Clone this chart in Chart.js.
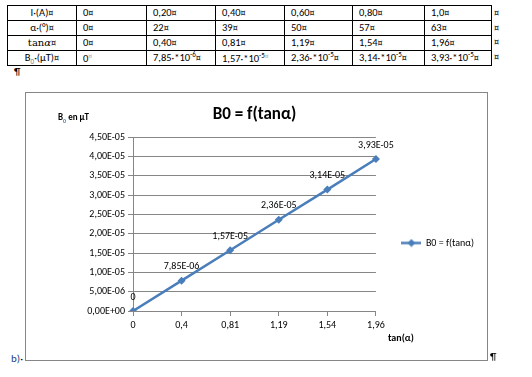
<!DOCTYPE html>
<html>
<head>
<meta charset="utf-8">
<script src="https://cdn.jsdelivr.net/npm/chart.js@4.4.0/dist/chart.umd.min.js"></script>
<style>
  body { margin: 0; background: #fff; font-family: Carlito, Calibri, Lato, sans-serif; color: #000; }
  .abs { position: absolute; white-space: nowrap; }
  table.val { position: absolute; left: 7px; top: 5px; border-collapse: collapse; font-size: 10.5px; }
  table.val td { border: 1px solid #000; height: 13px; padding: 0; text-indent: 6px; line-height: 13px; white-space: nowrap; }
  table.val td:first-child { text-align: center; text-indent: 0; }
  table.val sup { font-size: 7px; line-height: 0; }
  .m { font-family: 'DejaVu Sans', sans-serif; font-size: 8px; }
  .mg { font-family: 'DejaVu Sans', sans-serif; font-size: 6px; color: #999; vertical-align: super; line-height: 0; }
  #frame { position: absolute; left: 25px; top: 92px; width: 463px; height: 269px; border: 1px solid #868686; box-sizing: border-box; }
  #chart { position: absolute; left: 25px; top: 92px; }
</style>
</head>
<body>
<table class="val">
  <tr><td style="width:68px">I·(A)<span class="m">¤</span></td><td style="width:69px">0<span class="m">¤</span></td><td style="width:68px">0,20<span class="m">¤</span></td><td style="width:68px">0,40<span class="m">¤</span></td><td style="width:67px">0,60<span class="m">¤</span></td><td style="width:71px">0,80<span class="m">¤</span></td><td style="width:66px">1,0<span class="m">¤</span></td></tr>
  <tr><td>α·(°)<span class="m">¤</span></td><td>0<span class="m">¤</span></td><td>22<span class="m">¤</span></td><td>39<span class="m">¤</span></td><td>50<span class="m">¤</span></td><td>57<span class="m">¤</span></td><td>63<span class="m">¤</span></td></tr>
  <tr><td><span style="font-family:'DejaVu Serif',serif;font-size:10px">tan<i>α</i></span><span class="m">¤</span></td><td>0<span class="m">¤</span></td><td>0,40<span class="m">¤</span></td><td>0,81<span class="m">¤</span></td><td>1,19<span class="m">¤</span></td><td>1,54<span class="m">¤</span></td><td>1,96<span class="m">¤</span></td></tr>
  <tr><td>B<sub style="font-size:7px;line-height:0;color:#777">0</sub>·(µT)<span class="m">¤</span></td><td>0<span class="mg">¤</span></td><td>7,85·*10<sup>-6</sup><span class="m">¤</span></td><td>1,57·*10<sup>-5</sup><span class="mg">¤</span></td><td>2,36·*10<sup>-5</sup><span class="m">¤</span></td><td>3,14·*10<sup>-5</sup><span class="m">¤</span></td><td>3,93·*10<sup>-5</sup><span class="m">¤</span></td></tr>
</table>
<div class="abs m" style="left:494px;top:7px;line-height:14.5px;">¤<br>¤<br>¤<br>¤</div>
<div class="abs" style="left:14px;top:65px;font-size:11px;">¶</div>

<div id="frame"></div>
<canvas id="chart" width="464" height="270"></canvas>
<div class="abs" style="left:58px;top:111px;font-size:9px;font-weight:bold;">B<sub style="font-size:6px;color:#4a7ebb">0</sub> en µT</div>
<div class="abs" style="left:388px;top:331px;font-size:10px;font-weight:bold;">tan(α)</div>
<div class="abs" style="left:11px;top:352px;font-size:11px;color:#1f3f7f;">b)<span style="color:#000">·</span></div>
<div class="abs" style="left:490px;top:350px;font-size:11px;">¶</div>

<script>
// values
const tanLabels = ['0', '0,4', '0,81', '1,19', '1,54', '1,96'];
const b0Values = [0, 7.85e-6, 1.57e-5, 2.36e-5, 3.14e-5, 3.93e-5];
const b0Labels = ['0', '7,85E-06', '1,57E-05', '2,36E-05', '3,14E-05', '3,93E-05'];
const yMin = 0;
const yMax = 4.5e-5;
const yStep = 5e-6;

const blue = '#4a7ebb';
const gray = '#868686';
const font = 'Carlito, Calibri, Lato, sans-serif';

// 4,50E-05 style
function sci(v)
{
  let p = v.toExponential(2).split('e');
  let n = parseInt(p[1], 10);
  return p[0].replace('.', ',') + 'E' + (n < 0 ? '-' : '+') + String(Math.abs(n)).padStart(2, '0');
}

// legend symbol : line with a diamond
function legendMark()
{
  let cv = document.createElement('canvas');
  cv.width = 20;
  cv.height = 9;
  let x = cv.getContext('2d');
  x.strokeStyle = blue;
  x.lineWidth = 2.5;
  x.beginPath();
  x.moveTo(0, 4.5);
  x.lineTo(20, 4.5);
  x.stroke();
  x.fillStyle = blue;
  x.beginPath();
  x.moveTo(10, 0.5);
  x.lineTo(14, 4.5);
  x.lineTo(10, 8.5);
  x.lineTo(6, 4.5);
  x.closePath();
  x.fill();
  return cv;
}

const pointLabels =
{
  id: 'pointLabels',
  afterDatasetsDraw(chart)
  {
    let ctx = chart.ctx;
    let meta = chart.getDatasetMeta(0);
    ctx.save();
    ctx.font = '10px ' + font;
    ctx.fillStyle = '#000';
    ctx.textAlign = 'center';
    ctx.textBaseline = 'middle';
    meta.data.forEach((pt, i) =>
    {
      ctx.fillText(b0Labels[i], pt.x, pt.y - 14);
    });
    ctx.restore();
  }
};

new Chart(document.getElementById('chart'),
{
  type: 'line',
  data:
  {
    labels: tanLabels,
    datasets: [{
      label: 'B0 = f(tanα)',
      data: b0Values,
      borderColor: blue,
      backgroundColor: blue,
      borderWidth: 2.5,
      pointStyle: 'rectRot',
      pointRadius: 4,
      pointBorderWidth: 0,
      tension: 0,
      fill: false
    }]
  },
  options:
  {
    responsive: false,
    animation: false,
    devicePixelRatio: 1,
    layout: {padding: {left: 0, right: 5, top: 0, bottom: 0}},
    plugins:
    {
      title: {display: true, text: 'B0 = f(tanα)', color: '#000', font: {family: font, size: 17, weight: 'bold'}, padding: {top: 13, bottom: 11.6}},
      legend:
      {
        position: 'right',
        title: {display: true, text: '', padding: 10, font: {size: 10}},
        labels: {usePointStyle: true, pointStyle: legendMark(), pointStyleWidth: 19, padding: 26, color: '#000', font: {family: font, size: 10}}
      },
      tooltip: {enabled: false}
    },
    scales:
    {
      x:
      {
        type: 'category',
        offset: false,
        grid: {display: true, drawOnChartArea: false, drawTicks: true, tickLength: 5, color: gray, tickColor: gray},
        border: {display: true, color: gray},
        ticks: {color: '#000', padding: 3, maxRotation: 0, font: {family: font, size: 10}},
        afterFit: (s) => { s.height = 51; }
      },
      y:
      {
        min: yMin,
        max: yMax,
        grid: {color: gray, tickColor: gray, tickLength: 5},
        border: {display: true, color: gray},
        ticks: {stepSize: yStep, color: '#000', padding: 3, font: {family: font, size: 10}, callback: (v) => sci(v)},
        afterFit: (s) => { s.width = 108; }
      }
    }
  },
  plugins: [pointLabels]
});
</script>
</body>
</html>
